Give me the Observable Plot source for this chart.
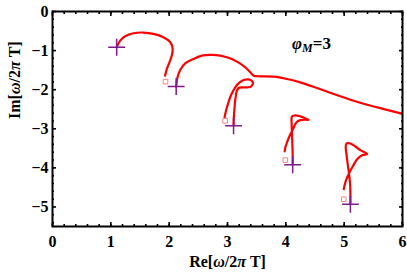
<!DOCTYPE html>
<html>
<head>
<meta charset="utf-8">
<script src="https://cdn.jsdelivr.net/npm/d3@7"></script>
<script src="https://cdn.jsdelivr.net/npm/@observablehq/plot@0.6"></script>
<style>
  html, body { margin: 0; padding: 0; background: #fff; }
  svg { display: block; }
  svg text { font-weight: bold; font-family: 'Liberation Serif', 'Times New Roman', serif; }
</style>
</head>
<body>
<div id="chart"></div>
<script>
// ---- data ----
const re1 = [1.10, 1.16, 1.245, 1.39, 1.56, 1.73, 1.90, 2.02, 2.06, 2.045, 2.005, 1.96, 1.93];
const im1 = [-0.915, -0.744, -0.632, -0.556, -0.538, -0.573, -0.658, -0.786, -0.957, -1.128, -1.299, -1.47, -1.641];

const re2 = [2.12, 2.143, 2.189, 2.275, 2.418, 2.56, 2.761, 2.99, 3.162, 3.305, 3.391, 3.448, 3.562, 3.791, 4.02, 4.249, 4.535, 4.821, 5.107, 5.394, 5.68, 5.966, 6.0];
const im2 = [-1.92, -1.684, -1.496, -1.325, -1.214, -1.13, -1.111, -1.171, -1.282, -1.427, -1.556, -1.641, -1.658, -1.667, -1.726, -1.812, -1.957, -2.111, -2.256, -2.385, -2.496, -2.607, -2.62];

const re3 = [3.104, 3.109, 3.121, 3.139, 3.162, 3.19, 3.265, 3.345, 3.408, 3.437, 3.408, 3.351, 3.276, 3.202, 3.133, 3.064, 3.007, 2.967, 2.95];
const im3 = [-2.923, -2.709, -2.453, -2.197, -2.026, -1.957, -1.94, -1.94, -1.915, -1.838, -1.761, -1.735, -1.752, -1.821, -1.94, -2.128, -2.368, -2.581, -2.709];

const re4 = [4.117, 4.117, 4.112, 4.106, 4.10, 4.106, 4.163, 4.249, 4.335, 4.392, 4.335, 4.249, 4.18, 4.123, 4.066, 4.02, 3.991, 3.98];
const im4 = [-3.923, -3.65, -3.393, -3.137, -2.88, -2.684, -2.658, -2.684, -2.735, -2.769, -2.769, -2.778, -2.838, -3.009, -3.179, -3.35, -3.479, -3.581];

const re5 = [5.107, 5.107, 5.102, 5.084, 5.061, 5.039, 5.027, 5.039, 5.107, 5.193, 5.279, 5.394, 5.308, 5.222, 5.153, 5.09, 5.039, 5.004, 4.993];
const im5 = [-4.932, -4.675, -4.419, -4.162, -3.906, -3.65, -3.479, -3.376, -3.376, -3.453, -3.547, -3.65, -3.675, -3.778, -3.949, -4.12, -4.291, -4.462, -4.547];

const plusRe = [1.10, 2.12, 3.104, 4.117, 5.107];
const plusIm = [-0.915, -1.92, -2.923, -3.923, -4.932];
const squareRe = [1.937, 2.961, 3.991, 4.993];
const squareIm = [-1.795, -2.795, -3.803, -4.803];

const xTicks = [0, 1, 2, 3, 4, 5, 6];
const yTicks = [0, -1, -2, -3, -4, -5];
const xMinorTicks = d3.range(0, 6.001, 0.2);
const yMinorTicks = d3.range(0, -5.501, -0.2);

const xLabel = "Re[ω/2π T]";
const yLabel = "Im[ω/2π T]";
const noteText = "φM=3";
const noteX = 4.44, noteY = -0.82;

// ---- build tables ----
const curvesRe = [re1, re2, re3, re4, re5];
const curvesIm = [im1, im2, im3, im4, im5];
const lines = curvesRe.flatMap((xs, k) => xs.map((x, j) => ({x, y: curvesIm[k][j], k})));
const pluses = plusRe.map((x, i) => ({x, y: plusIm[i]}));
const squares = squareRe.map((x, i) => ({x, y: squareIm[i]}));

const blank = () => "";
const majorLen = 4, minorLen = 2;
const tickFont = 16;

const chart = Plot.plot({
  width: 407,
  height: 278,
  marginLeft: 52,
  marginRight: 5,
  marginTop: 11,
  marginBottom: 52,
  style: {fontFamily: "'Liberation Serif', 'Times New Roman', serif", fontWeight: "bold", fontSize: "15px", background: "#fff", color: "#000", overflow: "visible"},
  x: {domain: [0, 6]},
  y: {domain: [-5.5, 0]},
  marks: [
    // curves
    Plot.line(lines, {x: "x", y: "y", z: "k", stroke: "#ff0000", strokeWidth: 2.2, curve: "catmull-rom", clip: true}),
    Plot.dot(squares, {x: "x", y: "y", symbol: "square", r: 2.6, stroke: "#ff8080", strokeWidth: 1, fill: "none"}),
    Plot.dot(pluses, {x: "x", y: "y", symbol: "plus", r: 5.5, stroke: "#7f1a8c", strokeWidth: 1.5}),
    // tick labels
    Plot.axisX({ticks: xTicks, anchor: "bottom", tickSize: 0, tickPadding: 9, tickFormat: "d", label: null, fontSize: tickFont}),
    Plot.axisY({ticks: yTicks, anchor: "left", tickSize: 0, tickPadding: 4, tickFormat: "d", label: null, fontSize: tickFont}),
    // inward major ticks
    Plot.axisX({ticks: xTicks, anchor: "bottom", tickSize: majorLen, dy: -majorLen, tickFormat: blank, label: null, strokeWidth: 1.6}),
    Plot.axisX({ticks: xTicks, anchor: "top", tickSize: majorLen, dy: majorLen, tickFormat: blank, label: null, strokeWidth: 1.6}),
    Plot.axisY({ticks: yTicks, anchor: "left", tickSize: majorLen, dx: majorLen, tickFormat: blank, label: null, strokeWidth: 1.6}),
    Plot.axisY({ticks: yTicks, anchor: "right", tickSize: majorLen, dx: -majorLen, tickFormat: blank, label: null, strokeWidth: 1.6}),
    // inward minor ticks
    Plot.axisX({ticks: xMinorTicks, anchor: "bottom", tickSize: minorLen, dy: -minorLen, tickFormat: blank, label: null, strokeWidth: 1.6}),
    Plot.axisX({ticks: xMinorTicks, anchor: "top", tickSize: minorLen, dy: minorLen, tickFormat: blank, label: null, strokeWidth: 1.6}),
    Plot.axisY({ticks: yMinorTicks, anchor: "left", tickSize: minorLen, dx: minorLen, tickFormat: blank, label: null, strokeWidth: 1.6}),
    Plot.axisY({ticks: yMinorTicks, anchor: "right", tickSize: minorLen, dx: -minorLen, tickFormat: blank, label: null, strokeWidth: 1.6}),
    // frame
    Plot.frame({stroke: "#000", strokeWidth: 2}),
    // axis titles
    Plot.text([xLabel], {frameAnchor: "bottom", dy: 40, fontSize: 16, fontWeight: "bold"}),
    Plot.text([yLabel], {frameAnchor: "left", dx: -38, rotate: -90, fontSize: 16, fontWeight: "bold"}),
    // annotation
    Plot.text([noteText], {x: () => noteX, y: () => noteY, fontSize: 17, fontWeight: "bold"})
  ]
});

// style the annotation: italic phi with subscript M; italic omega and pi in titles
const ns = "http://www.w3.org/2000/svg";
chart.querySelectorAll("text").forEach(t => {
  if (t.textContent === noteText) {
    t.textContent = "";
    const a = document.createElementNS(ns, "tspan");
    a.setAttribute("font-style", "italic");
    a.textContent = "φ";
    const b = document.createElementNS(ns, "tspan");
    b.setAttribute("font-style", "italic");
    b.setAttribute("font-size", "12");
    b.setAttribute("dy", "3");
    b.textContent = "M";
    const c = document.createElementNS(ns, "tspan");
    c.setAttribute("dy", "-3");
    c.textContent = "=3";
    t.append(a, b, c);
  } else if (t.textContent === xLabel || t.textContent === yLabel) {
    const s = t.textContent;
    t.textContent = "";
    for (const ch of s) {
      const sp = document.createElementNS(ns, "tspan");
      if (ch === "ω" || ch === "π") sp.setAttribute("font-style", "italic");
      sp.textContent = ch;
      t.append(sp);
    }
  }
});

document.getElementById("chart").append(chart);
</script>
</body>
</html>
